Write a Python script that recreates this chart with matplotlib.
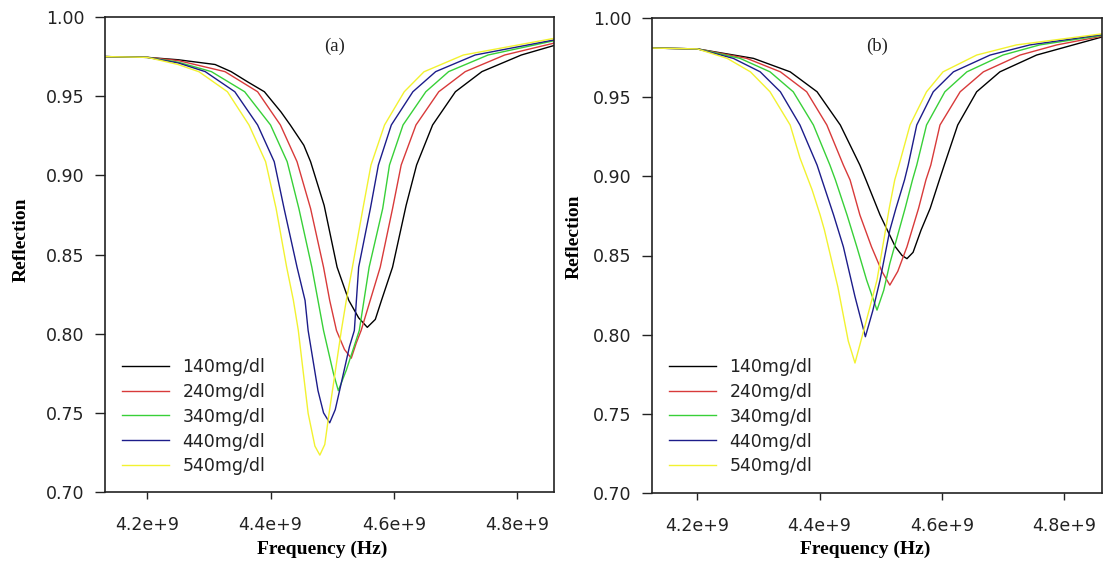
import numpy as np
import matplotlib
matplotlib.use("Agg")
import matplotlib.pyplot as plt

# ---------------- data (frequency in GHz, reflection) ----------------
labels = ["140mg/dl", "240mg/dl", "340mg/dl", "440mg/dl", "540mg/dl"]
colors = ["#000000", "#d83a3a", "#38d038", "#1c1c8a", "#f2f230"]

xticks = [4.2e9, 4.4e9, 4.6e9, 4.8e9]
xticklabels = ["4.2e+9", "4.4e+9", "4.6e+9", "4.8e+9"]
yticks = [0.70, 0.75, 0.80, 0.85, 0.90, 0.95, 1.00]
yticklabels = ["0.70", "0.75", "0.80", "0.85", "0.90", "0.95", "1.00"]

# panel (a)
a140_f = [4.132, 4.20, 4.25, 4.31, 4.336, 4.363, 4.390, 4.417, 4.432, 4.454, 4.465, 4.487, 4.508,
          4.527, 4.543, 4.557, 4.570, 4.580, 4.598, 4.620, 4.637, 4.663, 4.700, 4.743, 4.807, 4.860]
a140_r = [0.975, 0.9745, 0.973, 0.970, 0.9655, 0.959, 0.9528, 0.940, 0.9318, 0.919, 0.9086, 0.881, 0.842,
          0.821, 0.810, 0.804, 0.809, 0.821, 0.842, 0.881, 0.9065, 0.9318, 0.9528, 0.9655, 0.976, 0.982]

a240_f = [4.132, 4.20, 4.25, 4.326, 4.379, 4.416, 4.443, 4.465, 4.486, 4.496, 4.507, 4.520, 4.531,
          4.539, 4.547, 4.578, 4.598, 4.612, 4.636, 4.673, 4.716, 4.780, 4.860]
a240_r = [0.975, 0.9745, 0.9725, 0.9655, 0.9528, 0.9318, 0.9086, 0.879, 0.842, 0.821, 0.802, 0.790, 0.7845,
          0.794, 0.802, 0.842, 0.879, 0.9065, 0.9318, 0.9528, 0.9655, 0.976, 0.9835]

a340_f = [4.132, 4.20, 4.25, 4.304, 4.358, 4.400, 4.427, 4.446, 4.467, 4.477, 4.486, 4.502, 4.510,
          4.523, 4.539, 4.544, 4.560, 4.582, 4.593, 4.615, 4.652, 4.689, 4.753, 4.860]
a340_r = [0.975, 0.9745, 0.9715, 0.9655, 0.9528, 0.9318, 0.9086, 0.879, 0.842, 0.821, 0.802, 0.775, 0.764,
          0.777, 0.796, 0.802, 0.842, 0.879, 0.9065, 0.9318, 0.9528, 0.9655, 0.976, 0.985]

a440_f = [4.132, 4.20, 4.25, 4.294, 4.342, 4.379, 4.406, 4.422, 4.443, 4.456, 4.461, 4.477, 4.486, 4.496,
          4.505, 4.512, 4.528, 4.536, 4.543, 4.562, 4.575, 4.596, 4.631, 4.668, 4.732, 4.860]
a440_r = [0.975, 0.9745, 0.971, 0.9655, 0.9528, 0.9318, 0.9086, 0.879, 0.842, 0.821, 0.802, 0.764, 0.750, 0.7437,
          0.752, 0.764, 0.7917, 0.802, 0.842, 0.879, 0.9065, 0.9318, 0.9528, 0.9655, 0.976, 0.9855]

a540_f = [4.132, 4.20, 4.25, 4.284, 4.330, 4.365, 4.392, 4.409, 4.426, 4.437, 4.445, 4.461, 4.472, 4.480,
          4.488, 4.495, 4.507, 4.515, 4.523, 4.533, 4.550, 4.563, 4.585, 4.617, 4.649, 4.713, 4.860]
a540_r = [0.975, 0.9745, 0.970, 0.9654, 0.9528, 0.9318, 0.9086, 0.8791, 0.8423, 0.8212, 0.8022, 0.7497, 0.729,
          0.7233, 0.730, 0.7497, 0.7812, 0.8023, 0.8212, 0.8423, 0.8792, 0.9065, 0.9318, 0.9528, 0.9654, 0.976,
          0.9865]

# panel (b)
b140_f = [4.126, 4.20, 4.292, 4.352, 4.396, 4.434, 4.466, 4.476, 4.499, 4.524, 4.535, 4.543, 4.553,
          4.566, 4.581, 4.596, 4.604, 4.626, 4.657, 4.695, 4.755, 4.815, 4.862]
b140_r = [0.981, 0.9805, 0.9745, 0.966, 0.9534, 0.9324, 0.9071, 0.8977, 0.8756, 0.8555, 0.850, 0.848, 0.852,
          0.866, 0.8798, 0.8977, 0.9071, 0.9324, 0.9534, 0.966, 0.9766, 0.983, 0.988]

b240_f = [4.126, 4.20, 4.281, 4.336, 4.379, 4.412, 4.439, 4.450, 4.466, 4.485, 4.502, 4.515, 4.528,
          4.543, 4.562, 4.574, 4.582, 4.597, 4.630, 4.668, 4.728, 4.788, 4.862]
b240_r = [0.981, 0.9805, 0.9745, 0.966, 0.9534, 0.9324, 0.9071, 0.8977, 0.8756, 0.8555, 0.840, 0.8313, 0.840,
          0.8555, 0.8798, 0.8977, 0.9071, 0.9324, 0.9534, 0.966, 0.9766, 0.983, 0.9885]

b340_f = [4.126, 4.20, 4.270, 4.319, 4.357, 4.390, 4.417, 4.426, 4.445, 4.461, 4.477, 4.494, 4.505,
          4.515, 4.540, 4.552, 4.559, 4.575, 4.605, 4.641, 4.700, 4.760, 4.862]
b340_r = [0.981, 0.9805, 0.9745, 0.966, 0.9534, 0.9324, 0.9071, 0.8977, 0.8756, 0.8555, 0.8345, 0.8155, 0.828,
          0.845, 0.8798, 0.8977, 0.9071, 0.9324, 0.9534, 0.966, 0.9766, 0.983, 0.989]

b440_f = [4.126, 4.20, 4.259, 4.303, 4.336, 4.368, 4.396, 4.404, 4.423, 4.439, 4.458, 4.475, 4.487,
          4.499, 4.515, 4.525, 4.539, 4.545, 4.559, 4.586, 4.619, 4.679, 4.744, 4.862]
b440_r = [0.981, 0.9805, 0.9745, 0.966, 0.9534, 0.9324, 0.9071, 0.8977, 0.8756, 0.8555, 0.824, 0.7987, 0.815,
          0.8345, 0.866, 0.8798, 0.8977, 0.9071, 0.9324, 0.9534, 0.966, 0.9766, 0.983, 0.9895]

b540_f = [4.126, 4.20, 4.249, 4.287, 4.319, 4.352, 4.368, 4.388, 4.401, 4.408, 4.430, 4.447, 4.458,
          4.476, 4.494, 4.514, 4.523, 4.530, 4.548, 4.575, 4.602, 4.657, 4.722, 4.862]
b540_r = [0.981, 0.9805, 0.9745, 0.966, 0.9534, 0.9324, 0.9116, 0.8913, 0.8756, 0.8661, 0.8301, 0.7960, 0.7821,
          0.808, 0.8345, 0.8798, 0.8977, 0.9071, 0.9324, 0.9534, 0.966, 0.9766, 0.983, 0.990]

panel_a = [(a140_f, a140_r), (a240_f, a240_r), (a340_f, a340_r), (a440_f, a440_r), (a540_f, a540_r)]
panel_b = [(b140_f, b140_r), (b240_f, b240_r), (b340_f, b340_r), (b440_f, b440_r), (b540_f, b540_r)]

# ---------------- figure ----------------
W, H = 1104, 563
fig = plt.figure(figsize=(W / 100, H / 100), dpi=100)
fig.patch.set_facecolor("white")

tick_font = {"family": "DejaVu Sans", "size": 12.5}
label_font = {"family": "Liberation Serif", "weight": "bold", "size": 14}


def make_panel(rect, series, xlim, tag, tagpos, xlabpos, ylabpos, legpos):
    ax = fig.add_axes(rect)
    for (f, r), c, lab in zip(series, colors, labels):
        ax.plot(np.array(f) * 1e9, r, color=c, lw=1.0, label=lab)
    ax.set_xlim(xlim[0] * 1e9, xlim[1] * 1e9)
    ax.set_ylim(0.70, 1.00)
    ax.set_xticks(xticks)
    ax.set_xticklabels(xticklabels, fontdict=tick_font)
    ax.set_yticks(yticks)
    ax.set_yticklabels(yticklabels, fontdict=tick_font)
    ax.tick_params(axis="x", direction="out", length=5, width=1.0, pad=12, colors="#222222")
    ax.tick_params(axis="y", direction="out", length=7, width=1.0, pad=8, colors="#222222")
    for s in ax.spines.values():
        s.set_linewidth(1.2)
        s.set_color("#222222")
    ax.set_xlabel("Frequency (Hz)", fontdict=label_font)
    ax.set_ylabel("Reflection", fontdict=label_font)
    ax.xaxis.label.set_verticalalignment("center")
    ax.yaxis.label.set_verticalalignment("center")
    ax.xaxis.set_label_coords(*xlabpos)
    ax.yaxis.set_label_coords(*ylabpos)
    ax.text(tagpos[0], tagpos[1], tag, transform=ax.transAxes, ha="center", va="center",
            fontsize=13.5, family="Liberation Serif", color="#222222")
    leg = ax.legend(loc="upper left", bbox_to_anchor=legpos, bbox_transform=fig.transFigure,
                    frameon=False, borderpad=0, handlelength=2.7, handletextpad=0.8,
                    labelspacing=0.4, prop={"family": "DejaVu Sans", "size": 12.5})
    for t in leg.get_texts():
        t.set_color("#222222")
    return ax


make_panel([105.4 / W, 71 / H, 448.6 / W, 475 / H], panel_a, (4.132, 4.860), "(a)",
           (0.51, 0.9375), (0.484, -0.12), (-0.187, 0.53), (113 / W, 1 - 349 / H))
make_panel([652 / W, 70 / H, 450 / W, 475 / H], panel_b, (4.126, 4.862), "(b)",
           (0.501, 0.9396), (0.473, -0.118), (-0.173, 0.539), (660 / W, 1 - 349 / H))

fig.savefig("out.png", dpi=100, facecolor="white")
